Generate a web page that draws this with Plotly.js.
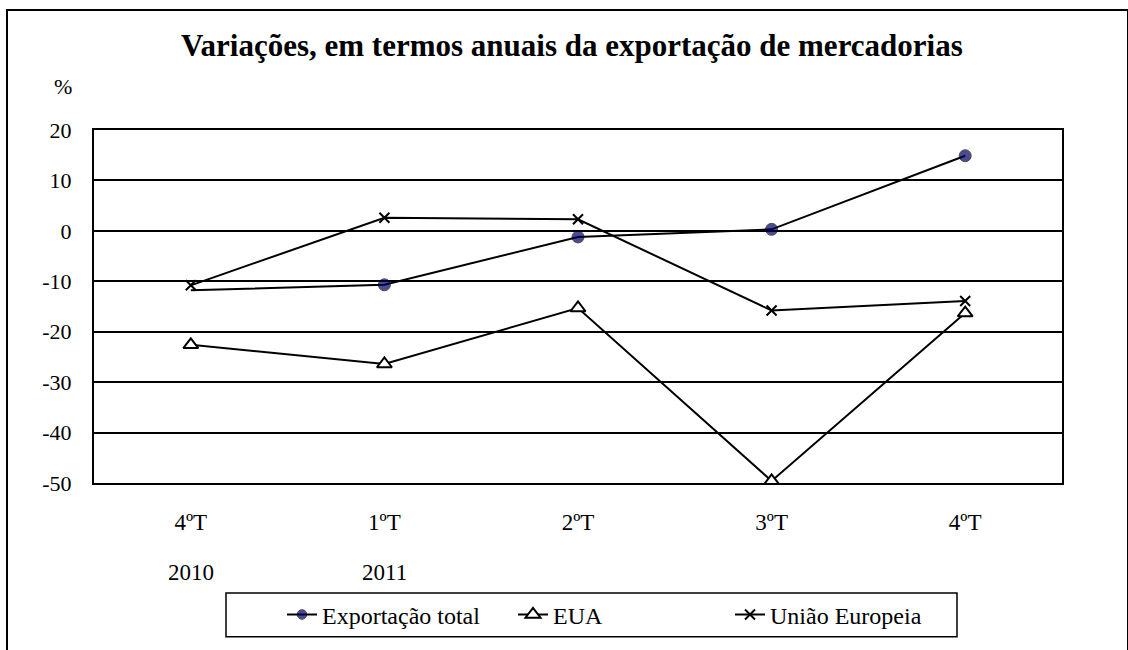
<!DOCTYPE html>
<html>
<head>
<meta charset="utf-8">
<script src="https://cdn.plot.ly/plotly-3.0.1.min.js"></script>
<style>
  html, body { margin: 0; padding: 0; background: #fff; }
  #wrap { position: relative; width: 1128px; height: 650px; overflow: hidden; }
  #chart { width: 1128px; height: 650px; }
  #frame { position: absolute; left: 6px; top: 9px; width: 1119px; height: 700px;
           border: 2px solid #000; pointer-events: none; }
</style>
</head>
<body>
<div id="wrap">
  <div id="chart"></div>
  <div id="frame"></div>
</div>
<script>
// ---- data ----
const quarters = ["4ºT", "1ºT", "2ºT", "3ºT", "4ºT"];
const years = ["2010", "2011", "", "", ""];
const exportacaoTotal = [-11.8, -10.7, -1.2, 0.3, 14.9];
const eua = [-22.6, -26.4, -15.3, -49.6, -16.3];
const uniaoEuropeia = [-10.8, 2.6, 2.3, -15.8, -13.9];
const seriesNames = ["Exportação total", "EUA", "União Europeia"];
const yTicks = [20, 10, 0, -10, -20, -30, -40, -50];
const yTickText = ["20", "10", "0", "-10", "-20", "-30", "-40", "-50"];

const xIdx = quarters.map((_, i) => i);
const FONT = "Liberation Serif, Times New Roman, serif";

const traces = [
  {
    x: xIdx, y: exportacaoTotal, name: seriesNames[0], mode: "lines+markers",
    line: { color: "#000", width: 2 },
    marker: { symbol: "circle", size: [0, 12, 12, 12, 12], color: "#000060",
              line: { color: "#000", width: 1 } },
    legend: "legend"
  },
  {
    x: xIdx, y: eua, name: seriesNames[1], mode: "lines+markers",
    line: { color: "#000", width: 2 },
    marker: { symbol: "triangle-up", size: 13, color: "#fff",
              line: { color: "#000", width: 2 } },
    legend: "legend2"
  },
  {
    x: xIdx, y: uniaoEuropeia, name: seriesNames[2], mode: "lines+markers",
    line: { color: "#000", width: 2 },
    marker: { symbol: "x-thin", size: 10, color: "#000",
              line: { color: "#000", width: 2 } },
    legend: "legend3"
  }
];

// paper coordinate helpers (plot area: x 94..1062, y 130..486)
const px = v => (v - 94) / 968;
const py = v => (486 - v) / 356;

const annotations = years.map((yr, i) => ({
  x: i, xref: "x", y: py(576), yref: "paper", text: yr, showarrow: false,
  xanchor: "center", yanchor: "middle",
  font: { family: FONT, size: 23, color: "#000" }
})).filter(a => a.text !== "");
annotations.push({
  x: px(63), y: py(86), xref: "paper", yref: "paper", text: "%", showarrow: false,
  xanchor: "center", yanchor: "middle",
  font: { family: FONT, size: 22, color: "#000" }
});

const legendBase = {
  orientation: "h", xanchor: "left", yanchor: "middle",
  bgcolor: "rgba(0,0,0,0)", borderwidth: 0,
  font: { family: FONT, size: 24, color: "#000" }
};

const layout = {
  width: 1128, height: 650,
  margin: { l: 94, r: 66, t: 130, b: 164 },
  paper_bgcolor: "#fff", plot_bgcolor: "#fff",
  title: {
    text: "<b>Variações, em termos anuais da exportação de mercadorias</b>",
    x: 0.507, xanchor: "center", y: 1 - 45 / 650, yanchor: "middle",
    font: { family: FONT, size: 31, color: "#000" }
  },
  xaxis: {
    range: [-0.5, 4.5], tickmode: "array", tickvals: xIdx, ticktext: quarters,
    showgrid: false, zeroline: false, ticks: "", ticklabelstandoff: 17,
    showline: true, linecolor: "#000", linewidth: 2, mirror: true,
    tickfont: { family: FONT, size: 23, color: "#000" }, fixedrange: true
  },
  yaxis: {
    range: [-50, 20], tickmode: "array", tickvals: yTicks, ticktext: yTickText,
    showgrid: true, gridcolor: "#000", gridwidth: 2,
    zeroline: true, zerolinecolor: "#000", zerolinewidth: 2,
    ticks: "", ticklabelstandoff: 16,
    showline: true, linecolor: "#000", linewidth: 2, mirror: true,
    tickfont: { family: FONT, size: 22, color: "#000" }, fixedrange: true
  },
  legend: Object.assign({}, legendBase, { x: px(282), y: py(619) }),
  legend2: Object.assign({}, legendBase, { x: px(513), y: py(619) }),
  legend3: Object.assign({}, legendBase, { x: px(730), y: py(619) }),
  shapes: [{
    type: "rect", xref: "paper", yref: "paper",
    x0: px(226), x1: px(957), y0: py(641), y1: py(597),
    line: { color: "#000", width: 1.5 }, fillcolor: "rgba(0,0,0,0)"
  }],
  annotations: annotations,
  showlegend: true
};

Plotly.newPlot("chart", traces, layout, { displayModeBar: false, staticPlot: true });
</script>
</body>
</html>
